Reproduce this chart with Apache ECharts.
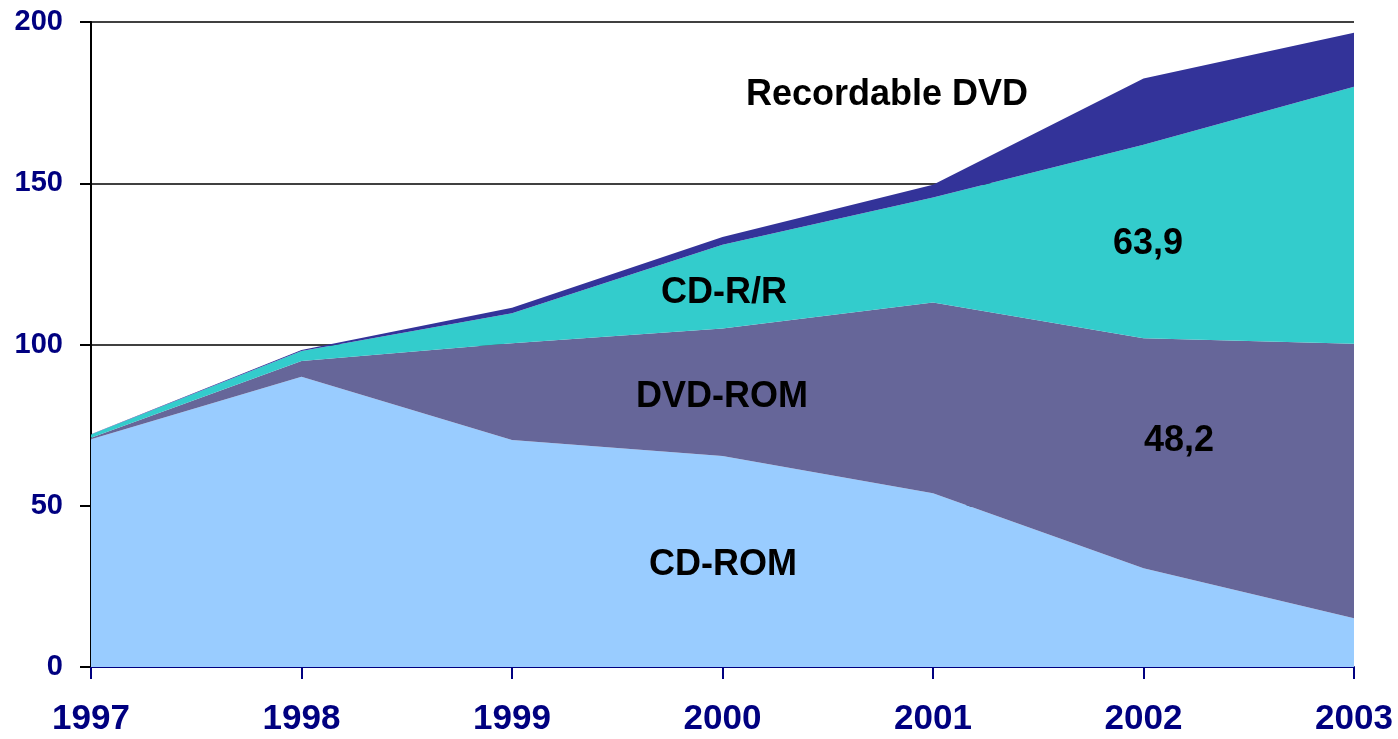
<!DOCTYPE html>
<html>
<head>
<meta charset="utf-8">
<script src="https://cdn.jsdelivr.net/npm/echarts@6/dist/echarts.min.js"></script>
<style>
  html, body { margin: 0; padding: 0; background: #fff; }
  #chart { width: 1398px; height: 739px; }
</style>
</head>
<body>
<div id="chart"></div>
<script>
const years = ['1997', '1998', '1999', '2000', '2001', '2002', '2003']
const cdRom = [70.6, 90.0, 70.4, 65.4, 53.9, 30.6, 15.1]
const dvdRom = [0.5, 4.9, 30.0, 39.6, 59.1, 71.3, 85.1]
const cdRw = [1.0, 3.1, 9.3, 25.9, 32.6, 60.0, 79.7]
const recDvd = [0.1, 0.3, 1.7, 2.4, 3.9, 20.6, 16.8]
const yTicks = [0, 50, 100, 150, 200]

const myChart = echarts.init(document.getElementById('chart'))
const font = 'Liberation Sans, Arial, sans-serif'

const areaSeries = (name, data, color) => ({
  name,
  type: 'line',
  stack: 'total',
  data,
  symbol: 'none',
  lineStyle: { width: 0 },
  areaStyle: { color, opacity: 1 },
  itemStyle: { color },
  silent: true
})

// annotation labels placed over the areas
const note = (text, x, y) => ({
  type: 'text',
  x,
  y,
  z: 100,
  style: {
    text,
    font: 'bold 36px ' + font,
    fill: '#000',
    textAlign: 'center',
    textVerticalAlign: 'middle'
  }
})

myChart.setOption({
  animation: false,
  grid: { left: 91, right: 44, top: 22, bottom: 72, containLabel: false },
  xAxis: {
    type: 'category',
    data: years,
    boundaryGap: false,
    axisLine: { lineStyle: { color: '#000080', width: 2 } },
    axisTick: { show: true, length: 12, lineStyle: { color: '#000080', width: 2 } },
    axisLabel: {
      color: '#000080',
      fontWeight: 'bold',
      fontSize: 35,
      fontFamily: font,
      margin: 35
    },
    splitLine: { show: false }
  },
  yAxis: {
    type: 'value',
    min: yTicks[0],
    max: yTicks[yTicks.length - 1],
    interval: 50,
    axisLine: { show: true, lineStyle: { color: '#000', width: 2 } },
    axisTick: { show: true, length: 11, lineStyle: { color: '#000', width: 2 } },
    axisLabel: {
      color: '#000080',
      fontWeight: 'bold',
      fontSize: 29,
      fontFamily: font,
      margin: 28
    },
    splitLine: { show: true, lineStyle: { color: '#000', width: 1.5 } }
  },
  series: [
    areaSeries('CD-ROM', cdRom, '#99ccff'),
    areaSeries('DVD-ROM', dvdRom, '#666699'),
    areaSeries('CD-R/R', cdRw, '#33cccc'),
    areaSeries('Recordable DVD', recDvd, '#333399')
  ],
  graphic: [
    note('Recordable DVD', 887, 95),
    note('CD-R/R', 724, 293),
    note('63,9', 1148, 244),
    note('DVD-ROM', 722, 397),
    note('48,2', 1179, 441),
    note('CD-ROM', 723, 565)
  ]
})
</script>
</body>
</html>
